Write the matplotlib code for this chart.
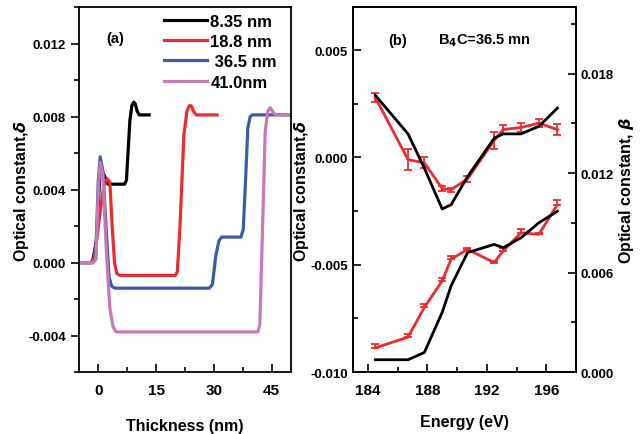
import numpy as np
import matplotlib.pyplot as plt
from matplotlib.ticker import MultipleLocator

plt.rcParams['font.family'] = ['Liberation Sans', 'DejaVu Sans']
plt.rcParams['font.weight'] = 'bold'
plt.rcParams['axes.labelweight'] = 'bold'

# panel (a): depth profiles of delta
x_835 = [-5, -1.5, -0.5, 0.5, 1.5, 2.5, 6.8, 7.3, 7.7, 8.2, 8.7, 9.2, 9.6, 10.1, 10.6, 11.2, 13.2]
d_835 = [0, 0, 0.0012, 0.0052, 0.0048, 0.0043, 0.0043, 0.0045, 0.0060, 0.0078, 0.0086, 0.0088, 0.0087, 0.0083, 0.0081, 0.0081, 0.0081]
x_188 = [-5, -2.0, -1.0, 0.5, 1.5, 2.3, 3.0, 3.6, 4.2, 4.8, 5.6, 20.0, 20.5, 21.2, 22.2, 23.0, 23.6, 24.1, 24.7, 25.4, 26.2, 30.8]
d_188 = [0, 0, 0.0003, 0.0028, 0.0043, 0.0046, 0.0044, 0.0020, 0.0000, -0.0006, -0.0007, -0.0007, -0.0005, 0.0020, 0.0070, 0.0083, 0.0086, 0.0086, 0.0083, 0.0081, 0.0081, 0.0081]
x_365 = [-5, -1.5, -0.7, 0.0, 0.5, 1.2, 2.0, 2.8, 3.5, 4.3, 28.8, 29.6, 30.5, 31.3, 32.0, 37.0, 37.6, 38.2, 38.8, 39.4, 40.0, 50]
d_365 = [0, 0, 0.0002, 0.0045, 0.0058, 0.0050, 0.0020, -0.0008, -0.0013, -0.0014, -0.0014, -0.0012, 0.0004, 0.0012, 0.0014, 0.0014, 0.0018, 0.0045, 0.0074, 0.0080, 0.0081, 0.0081]
x_410 = [-5, -1.3, -0.6, 0.0, 0.5, 1.2, 2.0, 3.0, 3.8, 4.6, 5.4, 41.4, 41.9, 42.5, 43.3, 44.0, 44.6, 45.2, 45.9, 46.8, 50]
d_410 = [0, 0, 0.0002, 0.0040, 0.0055, 0.0048, 0.0010, -0.0025, -0.0035, -0.0038, -0.0038, -0.0038, -0.0034, 0.0010, 0.0072, 0.0083, 0.0085, 0.0083, 0.0081, 0.0081, 0.0081]

# panel (b): optical constants vs energy
energy = [184.5, 186.7, 187.8, 189.0, 189.6, 190.7, 192.5, 193.1, 194.3, 195.5, 196.75]
delta_calc = [0.0029, 0.0011, -0.0005, -0.0024, -0.0022, -0.0009, 0.0009, 0.0011, 0.0011, 0.00145, 0.0023]
delta_meas = [0.0028, -0.0001, -0.00025, -0.00145, -0.0015, -0.0010, 0.0008, 0.0013, 0.0014, 0.0016, 0.0013]
delta_err = [0.0002, 0.0005, 0.00025, 0.0001, 0.0001, 0.00015, 0.0004, 0.0002, 0.0002, 0.0002, 0.00025]
beta_calc = [0.00074, 0.00074, 0.00118, 0.0036, 0.0052, 0.0072, 0.0077, 0.0075, 0.0081, 0.0090, 0.0097]
beta_meas = [0.00146, 0.0021, 0.0039, 0.0055, 0.0068, 0.0074, 0.0066, 0.0073, 0.0084, 0.0083, 0.0101]
beta_err = [0.0002, 0.0002, 0.0002, 0.0002, 0.0002, 0.0001, 0.0001, 0.0002, 0.0002, 0.0001, 0.0003]

fig = plt.figure(figsize=(6.43, 4.35), dpi=100)
ax1 = fig.add_axes([0.1229, 0.1425, 0.3297, 0.8384])
ax2 = fig.add_axes([0.549, 0.1425, 0.3468, 0.8384])
ax3 = ax2.twinx()

lw = 2.3
ax1.plot(x_835, d_835, color='black', lw=lw, label='8.35 nm')
ax1.plot(x_188, d_188, color='#ee2a2f', lw=lw, label='18.8 nm')
ax1.plot(x_365, d_365, color='#3a5aaa', lw=lw, label=' 36.5 nm')
ax1.plot(x_410, d_410, color='#c679b9', lw=lw, label='41.0nm')
ax1.set_xlim(-5, 50)
ax1.set_ylim(-0.006, 0.014)
ax1.xaxis.set_major_locator(MultipleLocator(15))
ax1.xaxis.set_minor_locator(MultipleLocator(7.5))
ax1.yaxis.set_major_locator(MultipleLocator(0.004))
ax1.yaxis.set_minor_locator(MultipleLocator(0.002))
ax1.yaxis.set_major_formatter(plt.FormatStrFormatter('%.3f'))
ax1.tick_params(axis='x', which='both', direction='in', top=False)
ax1.tick_params(axis='y', which='both', direction='out', right=False)
ax1.tick_params(which='major', length=6, width=1.2, labelsize=9.5)
ax1.tick_params(which='minor', length=3.5, width=1.2)
ax1.tick_params(axis='x', labelsize=11, pad=8)
ax1.set_xlabel('Thickness (nm)', fontsize=11.5, labelpad=15)
ax1.set_ylabel('Optical constant,$\\delta$', fontsize=11.5, labelpad=-2)
ax1.text(0.13, 0.905, '(a)', transform=ax1.transAxes, fontsize=10.5, fontweight='bold')
ax1.legend(loc='upper left', bbox_to_anchor=(0.345, 1.015), frameon=False, fontsize=12,
           handlelength=2.6, handletextpad=0.2, labelspacing=0.32, borderpad=0.2)

red = '#ee2a2f'
ax2.plot(energy, delta_calc, color='black', lw=2.0, zorder=3)
ax2.errorbar(energy, delta_meas, yerr=delta_err, color=red, lw=2.0, elinewidth=1.3, capsize=3, capthick=1.3)
ax3.plot(energy, beta_calc, color='black', lw=2.0, zorder=3)
ax3.errorbar(energy, beta_meas, yerr=[[0] * len(beta_err), beta_err], color=red, lw=2.0, elinewidth=1.3, capsize=3, capthick=1.3)

ax2.set_xlim(183, 198)
ax2.set_ylim(-0.010, 0.007)
ax3.set_ylim(0, 0.022)
ax2.xaxis.set_major_locator(MultipleLocator(4))
ax2.xaxis.set_minor_locator(MultipleLocator(2))
ax2.yaxis.set_major_locator(MultipleLocator(0.005))
ax2.yaxis.set_minor_locator(MultipleLocator(0.0025))
ax2.yaxis.set_major_formatter(plt.FormatStrFormatter('%.3f'))
ax3.yaxis.set_major_locator(MultipleLocator(0.006))
ax3.yaxis.set_minor_locator(MultipleLocator(0.003))
ax3.yaxis.set_major_formatter(plt.FormatStrFormatter('%.3f'))
ax2.tick_params(which='both', direction='in', top=False, right=False)
ax3.tick_params(which='both', direction='in')
for a in (ax2, ax3):
    a.tick_params(which='major', length=6, width=1.2, labelsize=9.5)
    a.tick_params(which='minor', length=3.5, width=1.2)
ax2.tick_params(axis='x', labelsize=11, pad=8)
ax2.set_xlabel('Energy (eV)', fontsize=11.5, labelpad=12)
ax2.set_ylabel('Optical constant,$\\delta$', fontsize=11.5, labelpad=0)
ax3.set_ylabel('Optical constant, $\\beta$', fontsize=11.5, labelpad=2)
ax2.text(0.16, 0.9, '(b)', transform=ax2.transAxes, fontsize=10.5, fontweight='bold')
ax2.text(0.38, 0.9, 'B$_\\mathbf{4}$C=36.5 mn', transform=ax2.transAxes, fontsize=10.5, fontweight='bold')

for a in (ax1, ax2, ax3):
    for s in a.spines.values():
        s.set_linewidth(1.3)

fig.savefig('out.png', dpi=100)
